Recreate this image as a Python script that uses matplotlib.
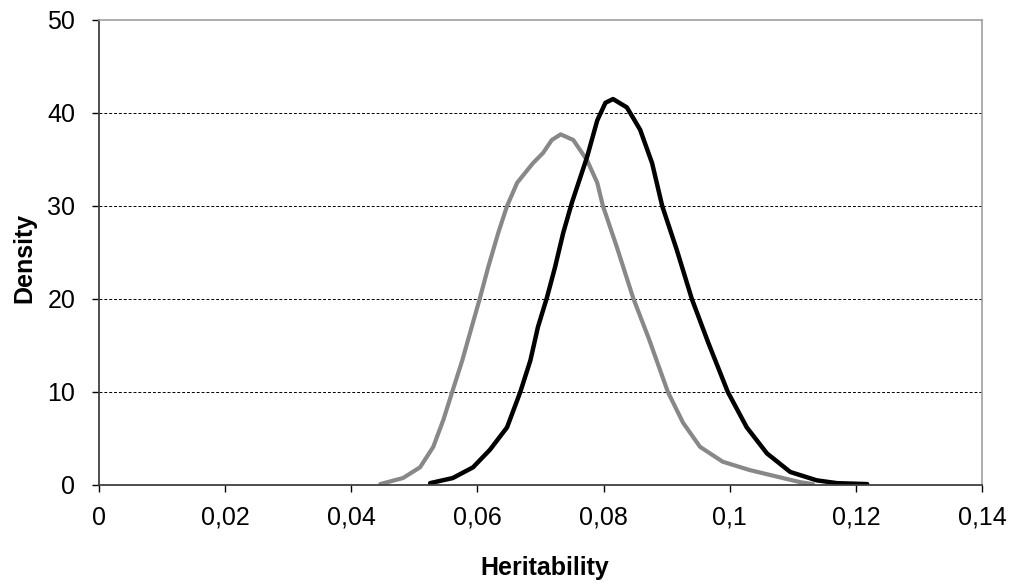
import matplotlib
matplotlib.use("Agg")
import matplotlib.pyplot as plt

plt.rcParams['font.family'] = ['Liberation Sans', 'DejaVu Sans']

# Grey curve
grey_x = [0.0446, 0.0482, 0.0509, 0.0530, 0.0546, 0.0560, 0.0576, 0.0591, 0.0604,
          0.0617, 0.0633, 0.0647, 0.0663, 0.0688, 0.0704, 0.0718, 0.0732, 0.0752,
          0.0774, 0.0790, 0.0799, 0.0821, 0.0847, 0.0872, 0.0902, 0.0926, 0.0953,
          0.0989, 0.1032, 0.1075, 0.1112, 0.1132]
grey_y = [0.1, 0.75, 1.9, 4.1, 7.0, 10.0, 13.4, 17.0, 20.1,
          23.4, 27.1, 30.0, 32.5, 34.6, 35.7, 37.1, 37.7, 37.1,
          34.9, 32.5, 30.0, 25.6, 20.1, 15.7, 10.0, 6.7, 4.1,
          2.5, 1.6, 0.9, 0.3, 0.1]

# Black curve
black_x = [0.0525, 0.0561, 0.0593, 0.0620, 0.0647, 0.0668, 0.0684, 0.0696, 0.0710,
           0.0723, 0.0736, 0.0750, 0.0774, 0.0790, 0.0803, 0.0815, 0.0837, 0.0858,
           0.0877, 0.0893, 0.0916, 0.0940, 0.0966, 0.0997, 0.1027, 0.1059, 0.1096,
           0.1138, 0.1170, 0.1218]
black_y = [0.2, 0.75, 1.9, 3.8, 6.2, 10.0, 13.4, 17.0, 20.1,
           23.4, 27.1, 30.4, 35.3, 39.2, 41.1, 41.5, 40.6, 38.2,
           34.6, 30.0, 25.3, 20.0, 15.3, 10.0, 6.2, 3.4, 1.4,
           0.5, 0.2, 0.1]

x_ticks = [0, 0.02, 0.04, 0.06, 0.08, 0.1, 0.12, 0.14]
x_labels = ["0", "0,02", "0,04", "0,06", "0,08", "0,1", "0,12", "0,14"]
y_ticks = [0, 10, 20, 30, 40, 50]

fig = plt.figure(figsize=(10.13, 5.83), dpi=100)
ax = fig.add_axes([0.0977, 0.1681, 0.8717, 0.7976])

ax.plot(grey_x, grey_y, color='#888888', lw=3.0, solid_joinstyle='round', solid_capstyle='round')
ax.plot(black_x, black_y, color='black', lw=3.2, solid_joinstyle='round', solid_capstyle='round')

ax.set_xlim(0, 0.14)
ax.set_ylim(0, 50)
ax.set_xticks(x_ticks)
ax.set_xticklabels(x_labels)
ax.set_yticks(y_ticks)
ax.tick_params(axis='both', direction='out', length=5, width=1, labelsize=18,
               colors='black')
ax.tick_params(axis='x', pad=10)
ax.tick_params(axis='y', pad=12)

for y in [10, 20, 30, 40]:
    ax.axhline(y, color='black', lw=0.7, ls=(0, (3, 2)), zorder=0)

ax.spines['left'].set_color('#404040')
ax.spines['bottom'].set_color('#404040')
ax.spines['left'].set_linewidth(1.3)
ax.spines['bottom'].set_linewidth(1.3)
ax.spines['top'].set_color('#a0a0a0')
ax.spines['right'].set_color('#a0a0a0')
ax.spines['top'].set_linewidth(1.2)
ax.spines['right'].set_linewidth(1.2)

ax.set_xlabel('Heritability', fontsize=18, fontweight='bold')
ax.set_ylabel('Density', fontsize=18, fontweight='bold')
ax.xaxis.set_label_coords(0.505, -0.153)
ax.yaxis.set_label_coords(-0.0713, 0.488)

fig.savefig('out.png', dpi=100)
